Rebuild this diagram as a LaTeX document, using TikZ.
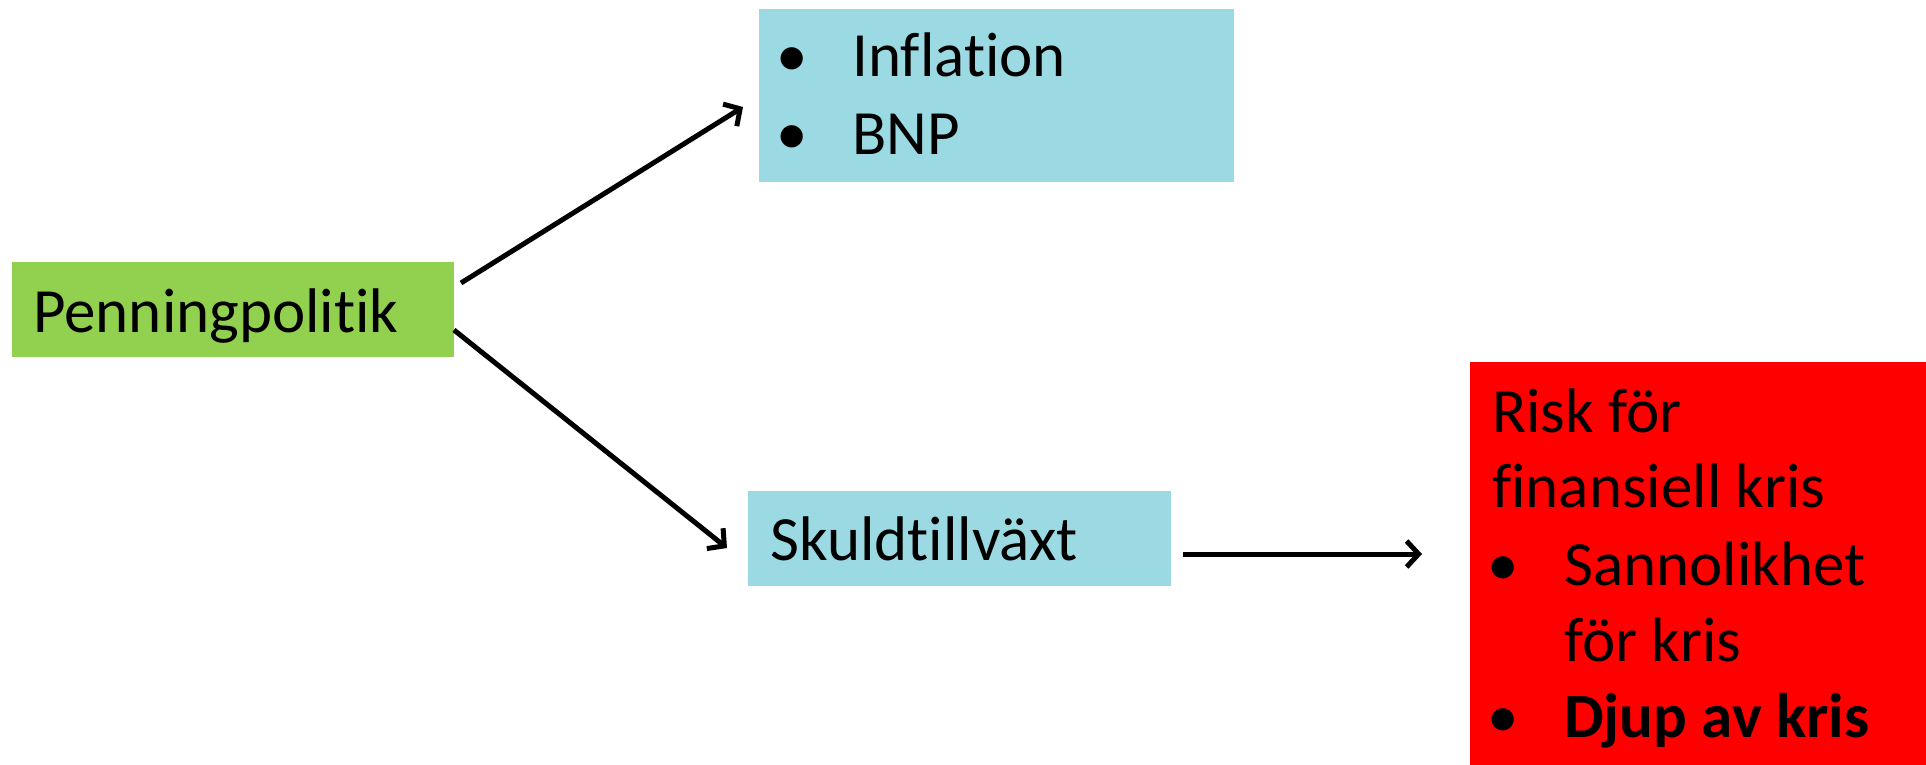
\documentclass[tikz,border=0pt]{standalone}
\usepackage{fontspec}
\setmainfont[Ligatures={NoCommon}]{Carlito}
\usetikzlibrary{arrows.meta}
\definecolor{pgreen}{HTML}{92D050}
\definecolor{pblue}{HTML}{9CDAE3}
\definecolor{pred}{HTML}{FF0000}
\begin{document}
\begin{tikzpicture}[x=1pt,y=-1pt,
  box/.style={draw=none,inner sep=0pt},
  txt/.style={anchor=base west,inner sep=0pt,font=\fontsize{63}{76}\selectfont},
  conn/.style={line width=5pt,-{Straight Barb[length=12pt,width=26pt,line width=5pt]}}]
\useasboundingbox (0,0) rectangle (1926,765);
% boxes
\fill[pgreen] (12,262) rectangle (454,357);
\fill[pblue] (759,9) rectangle (1234,182);
\fill[pblue] (748,491) rectangle (1171,586);
\fill[pred] (1470,362) rectangle (1926,765);
\node[box] (pp) at (233,309.5) {};
\node[box] (top) at (996,95.5) {};
\node[box] (sk) at (959,538.5) {};
\node[box] (risk) at (1698,563) {};
% texts
\node[txt] (tpp) at (33,332) {Penningpolitik};
\node[txt] (b1) at (776,77) {•};
\node[txt] (t1) at (852,77) {Inflation};
\node[txt] (b2) at (776,154) {•};
\node[txt] (t2) at (852,154) {BNP};
\node[txt] (tsk) at (770,560) {Skuldtillväxt};
\node[txt] (r1) at (1492,432) {Risk för};
\node[txt] (r2) at (1492,507) {finansiell kris};
\node[txt] (b3) at (1487,585) {•};
\node[txt] (r3) at (1564,585) {Sannolikhet};
\node[txt] (r4) at (1564,661) {för kris};
\node[txt] (b4) at (1487,737) {•};
\node[txt] (r5) at (1564,737) {\bfseries Djup av kris};
% connector ends
\coordinate (a1s) at (461,283);
\coordinate (a1e) at (743,107);
\coordinate (a2s) at (454,330);
\coordinate (a2e) at (727,548);
\coordinate (a3s) at (1183,554);
\coordinate (a3e) at (1422,554);
\draw[conn] (a1s) -- (a1e);
\draw[conn] (a2s) -- (a2e);
\draw[conn] (a3s) -- (a3e);
\end{tikzpicture}
\end{document}
